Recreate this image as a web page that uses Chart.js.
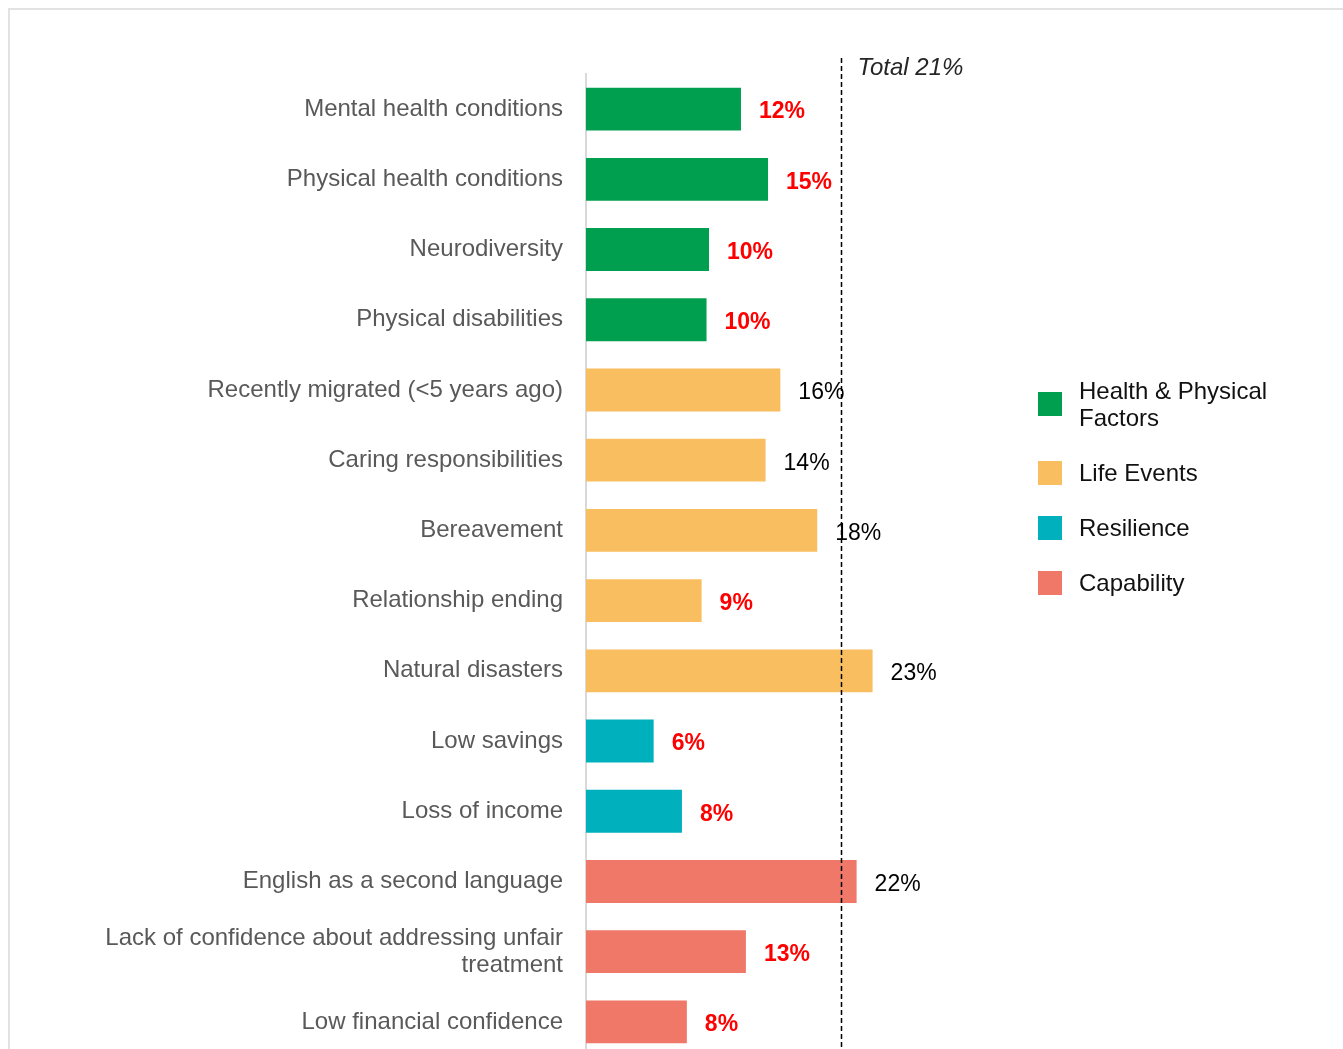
<!DOCTYPE html>
<html>
<head>
<meta charset="utf-8">
<title>Drivers</title>
<script src="https://cdn.jsdelivr.net/npm/chart.js@4.4.1/dist/chart.umd.min.js"></script>
<style>
  html, body { margin: 0; padding: 0; background: #fff; overflow: hidden; }
  #frame {
    position: absolute; left: 8px; top: 8px;
    width: 1400px; height: 1100px;
    border: 2px solid #e2e2e2; box-sizing: border-box;
  }
  #wrap { position: absolute; left: 0; top: 0; width: 1343px; height: 1100px; }
</style>
</head>
<body>
<div id="frame"></div>
<div id="wrap"><canvas id="chart" width="1343" height="1100"></canvas></div>
<script>
//================================================
// DATA
// ===============================================
const categories = [
    'Mental health conditions',
    'Physical health conditions',
    'Neurodiversity',
    'Physical disabilities',
    'Recently migrated (<5 years ago)',
    'Caring responsibilities',
    'Bereavement',
    'Relationship ending',
    'Natural disasters',
    'Low savings',
    'Loss of income',
    'English as a second language',
    ['Lack of confidence about addressing unfair', 'treatment'],
    'Low financial confidence'
];

// share of people (%)
const values = [12.6, 14.8, 10.0, 9.8, 15.8, 14.6, 18.8, 9.4, 23.3, 5.5, 7.8, 22.0, 13.0, 8.2];
const pctText = ['12%', '15%', '10%', '10%', '16%', '14%', '18%', '9%', '23%', '6%', '8%', '22%', '13%', '8%'];
// red bold labels in the original
const highlighted = [true, true, true, true, false, false, false, true, false, true, true, false, true, true];

const groups = ['Health & Physical Factors', 'Life Events', 'Resilience', 'Capability'];
const groupColors = ['#009e4f', '#f9be5f', '#00b1bd', '#ef7868'];
const groupOf = [0, 0, 0, 0, 1, 1, 1, 1, 1, 2, 2, 3, 3, 3];

const totalValue = 20.7;
const totalText = 'Total 21%';

//================================================
// HELPERS
// ===============================================
const FONT = '"Liberation Sans", Arial, sans-serif';

function wrapWords(ctx, text, maxWidth) {
    const words = text.split(' ');
    const lines = [];
    let line = '';
    words.forEach(w => {
        const test = line ? line + ' ' + w : w;
        if (ctx.measureText(test).width > maxWidth && line) {
            lines.push(line);
            line = w;
        } else {
            line = test;
        }
    });
    if (line) lines.push(line);
    return lines;
}

// value labels next to the bars
const valueLabelPlugin = {
    id: 'valueLabels',
    afterDatasetsDraw(chart) {
        const ctx = chart.ctx;
        const meta = chart.getDatasetMeta(0);
        ctx.save();
        ctx.textBaseline = 'middle';
        ctx.textAlign = 'left';
        meta.data.forEach((bar, i) => {
            if (highlighted[i]) {
                ctx.font = 'bold 23px ' + FONT;
                ctx.fillStyle = '#ff0000';
            } else {
                ctx.font = '23px ' + FONT;
                ctx.fillStyle = '#000000';
            }
            ctx.fillText(pctText[i], bar.x + 18, bar.y + 3);
        });
        ctx.restore();
    }
};

// dashed reference line for the total
const totalLinePlugin = {
    id: 'totalLine',
    afterDatasetsDraw(chart) {
        const ctx = chart.ctx;
        const x = Math.round(chart.scales.x.getPixelForValue(totalValue)) + 0.5;
        ctx.save();
        ctx.strokeStyle = '#000';
        ctx.lineWidth = 1.5;
        ctx.setLineDash([5, 3]);
        ctx.beginPath();
        ctx.moveTo(x, 58);
        ctx.lineTo(x, chart.height);
        ctx.stroke();
        ctx.setLineDash([]);
        ctx.font = 'italic 24px ' + FONT;
        ctx.fillStyle = '#262626';
        ctx.textBaseline = 'middle';
        ctx.fillText(totalText, x + 16, 68);
        ctx.restore();
    }
};

// legend on the right, with wrapped text
const sideLegendPlugin = {
    id: 'sideLegend',
    afterDraw(chart) {
        const ctx = chart.ctx;
        const boxX = 1038, textX = 1079, lineH = 27, gap = 28, box = 24;
        let y = 377;
        ctx.save();
        ctx.font = '24px ' + FONT;
        ctx.textBaseline = 'middle';
        groups.forEach((name, i) => {
            const lines = wrapWords(ctx, name, 230);
            const h = lines.length * lineH;
            const cy = y + h / 2;
            ctx.fillStyle = groupColors[i];
            ctx.fillRect(boxX, Math.round(cy - box / 2), box, box);
            ctx.fillStyle = '#111111';
            lines.forEach((ln, k) => ctx.fillText(ln, textX, y + lineH / 2 + k * lineH + 2));
            y += h + gap;
        });
        ctx.restore();
    }
};

//================================================
// CHART
// ===============================================
const chart = new Chart(document.getElementById('chart'), {
    type: 'bar',
    data: {
        labels: categories,
        datasets: [{
            data: values,
            backgroundColor: groupOf.map(g => groupColors[g]),
            borderWidth: 0,
            categoryPercentage: 1,
            barPercentage: 0.61
        }]
    },
    options: {
        indexAxis: 'y',
        responsive: false,
        animation: false,
        devicePixelRatio: 1,
        layout: { padding: { left: 0, top: 74, right: 388, bottom: 43 } },
        plugins: {
            legend: { display: false },
            tooltip: { enabled: false }
        },
        scales: {
            x: {
                display: false,
                min: 0,
                max: 30
            },
            y: {
                grid: { display: false, drawTicks: false },
                border: { display: true, color: '#d9d9d9', width: 2 },
                ticks: {
                    autoSkip: false,
                    padding: 23,
                    color: '#595959',
                    font: { family: FONT, size: 24, lineHeight: 1.12 }
                },
                afterFit(scale) { scale.width = 586; }
            }
        }
    },
    plugins: [valueLabelPlugin, totalLinePlugin, sideLegendPlugin]
});
</script>
</body>
</html>
